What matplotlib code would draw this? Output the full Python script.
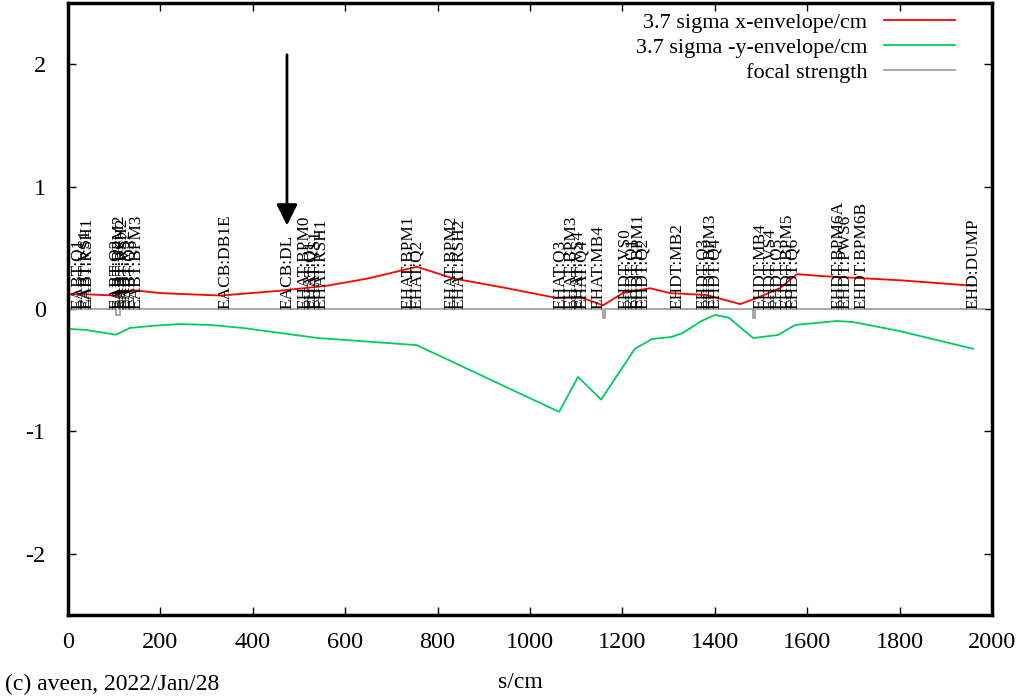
import matplotlib
matplotlib.use('Agg')
import matplotlib.pyplot as plt

# envelope data (s in cm)
x_env_s = [0, 40, 102, 138, 200, 330, 452, 560, 650, 755, 834, 950, 1058, 1108, 1158, 1201, 1260, 1303, 1383,
           1455, 1491, 1541, 1578, 1628, 1800, 1960]
x_env_y = [0.12, 0.12, 0.11, 0.155, 0.13, 0.11, 0.147, 0.19, 0.25, 0.345, 0.25, 0.17, 0.09, 0.098, 0.03, 0.13,
           0.17, 0.13, 0.114, 0.04, 0.09, 0.17, 0.285, 0.27, 0.235, 0.19]

y_env_s = [0, 37, 104, 134, 190, 242, 307, 379, 541, 755, 978, 1063, 1104, 1154, 1227, 1264, 1307, 1331, 1370,
           1400, 1430, 1483, 1537, 1574, 1664, 1699, 1800, 1959]
y_env_y = [-0.163, -0.17, -0.21, -0.155, -0.135, -0.123, -0.13, -0.155, -0.237, -0.295, -0.69, -0.84, -0.555,
           -0.74, -0.325, -0.245, -0.228, -0.195, -0.1, -0.049, -0.07, -0.237, -0.212, -0.13, -0.098, -0.106,
           -0.18, -0.325]

focal_s = [0, 104, 104, 112, 112, 1158, 1158, 1162, 1162, 1483, 1483, 1487, 1487, 1985]
focal_y = [0, 0, -0.05, -0.05, 0, 0, -0.07, -0.07, 0, 0, -0.07, -0.07, 0, 0]

elem_names = ['EABT:Q1', 'EABT:VS1', 'EABT:RSH1', 'EABT:Q2', 'EABT:BPM2', 'EABT:RSH2', 'EABT:VS2', 'EABT:Q3',
              'EABT:BPM3', 'EACB:DB1E', 'EACB:DL', 'EHAT:BPM0', 'EHAT:Q1', 'EHAT:VS1', 'EHAT:RSH1',
              'EHAT:BPM1', 'EHAT:Q2', 'EHAT:BPM2', 'EHAT:RSH2', 'EHAT:Q3', 'EHAT:BPM3', 'EHAT:VS4', 'EHAT:Q4',
              'EHAT:MB4', 'EHDT:VS0', 'EHDT:Q1', 'EHDT:BPM1', 'EHDT:Q2', 'EHDT:MB2', 'EHDT:Q3', 'EHDT:BPM3',
              'EHDT:Q4', 'EHDT:MB4', 'EHDT:VS4', 'EHDT:Q5', 'EHDT:BPM5', 'EHDT:Q6', 'EHDT:BPM6A', 'EHDT:PWS6',
              'EHDT:BPM6B', 'EHD:DUMP']
elem_s = [22, 38, 43, 104, 112, 118, 124, 134, 148, 340, 474, 512, 525, 535, 548, 736, 755, 831, 848, 1065,
          1090, 1104, 1112, 1148, 1206, 1220, 1234, 1245, 1320, 1375, 1390, 1400, 1498, 1520, 1534, 1558, 1569,
          1667, 1682, 1718, 1959]

plt.rcParams['font.family'] = ['Liberation Serif', 'DejaVu Serif']
plt.rcParams['axes.unicode_minus'] = False

fig = plt.figure(figsize=(10.16, 7.0), dpi=100)
ax = fig.add_axes([0.0669, 0.1214, 0.9095, 0.8743])

ax.plot(x_env_s, x_env_y, color='#ff0000', lw=1.3, label='3.7 sigma x-envelope/cm')
ax.plot(y_env_s, y_env_y, color='#00cc60', lw=1.3, label='3.7 sigma -y-envelope/cm')
ax.plot(focal_s, focal_y, color='#a0a0a0', lw=1.3, label='focal strength')

for name, s in zip(elem_names, elem_s):
    ax.text(s, 0.0, name, rotation=90, ha='center', va='bottom', fontsize=12.4)

ax.annotate('', xy=(474, 0.66), xytext=(474, 2.1),
            arrowprops=dict(arrowstyle='-|>', color='black', lw=2, mutation_scale=32))

ax.set_xlim(0, 2000)
ax.set_ylim(-2.5, 2.5)
ax.set_xticks(range(0, 2001, 200))
ax.set_yticks([-2, -1, 0, 1, 2])
ax.tick_params(direction='in', length=6, width=1, top=True, right=True, labelsize=17.5)
ax.tick_params(axis='x', pad=12)
ax.tick_params(axis='y', pad=16)
for sp in ax.spines.values():
    sp.set_linewidth(2.5)

ax.legend(loc='upper right', bbox_to_anchor=(0.96, 0.985), frameon=False, markerfirst=False,
          fontsize=16, handlelength=3.2, handletextpad=0.75, labelspacing=0.2,
          borderpad=0, borderaxespad=0)

fig.text(0.005, 0.022, '(c) aveen, 2022/Jan/28', fontsize=17, ha='left', va='center')
fig.text(0.512, 0.025, 's/cm', fontsize=17, ha='center', va='center')

fig.savefig('out.png', dpi=100)
